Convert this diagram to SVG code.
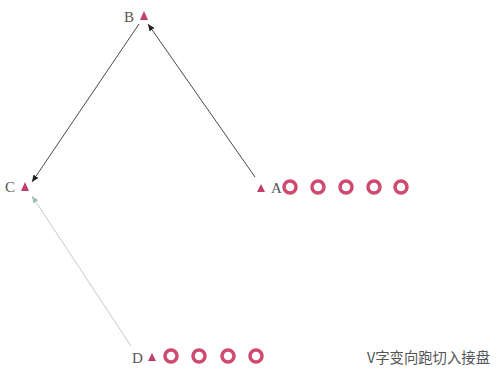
<svg xmlns="http://www.w3.org/2000/svg" width="498" height="374" viewBox="0 0 498 374">
<defs>
<style>
.lbl{font-family:"Liberation Serif","DejaVu Serif",serif;font-size:15px;fill:#555;}
.tri{fill:#c0406a;}
.ring{fill:none;stroke:#d04a70;stroke-width:3.5;}
.ln{stroke:#333;stroke-width:0.9;fill:none;}
.lg{stroke:#b8c4c4;stroke-width:0.9;fill:none;}
.cap{font-family:"Noto Sans CJK SC","Noto Sans CJK JP",sans-serif;font-size:15px;fill:#555;}
</style>
<marker id="ah" markerWidth="8" markerHeight="8" refX="7" refY="4" orient="auto" markerUnits="userSpaceOnUse">
<path d="M0,1 L7,4 L0,7 Z" fill="#222"/>
</marker>
<marker id="ag" markerWidth="8" markerHeight="8" refX="7" refY="4" orient="auto" markerUnits="userSpaceOnUse">
<path d="M0,1 L7,4 L0,7 Z" fill="#9fbfb8"/>
</marker>
</defs>
<rect width="498" height="374" fill="#fff"/>
<g id="connectors">
<line class="ln" x1="255" y1="177" x2="148" y2="24" marker-end="url(#ah)"/>
<line class="ln" x1="139" y1="24" x2="32" y2="182" marker-end="url(#ah)"/>
<line class="lg" x1="131" y1="346" x2="32" y2="196" marker-end="url(#ag)"/>
</g>
<g id="B">
<text class="lbl" x="124" y="22">B</text>
<polygon class="tri" points="144,11 148,20 140,20"/>
</g>
<g id="C">
<text class="lbl" x="5" y="192">C</text>
<polygon class="tri" points="25,182 29,191 21,191"/>
</g>
<g id="A">
<polygon class="tri" points="261,184 265,192 257,192"/>
<text class="lbl" x="271" y="193">A</text>
<circle class="ring" cx="290" cy="187" r="6"/>
<circle class="ring" cx="318" cy="187" r="6"/>
<circle class="ring" cx="346" cy="187" r="6"/>
<circle class="ring" cx="374" cy="187" r="6"/>
<circle class="ring" cx="401" cy="187" r="6"/>
</g>
<g id="D">
<text class="lbl" x="132" y="363">D</text>
<polygon class="tri" points="152,353 156,361 148,361"/>
<circle class="ring" cx="171" cy="356" r="6"/>
<circle class="ring" cx="199" cy="356" r="6"/>
<circle class="ring" cx="228" cy="356" r="6"/>
<circle class="ring" cx="256" cy="356" r="6"/>
</g>
<text class="cap" x="367" y="363" textLength="123" lengthAdjust="spacingAndGlyphs">V字变向跑切入接盘</text>
</svg>
